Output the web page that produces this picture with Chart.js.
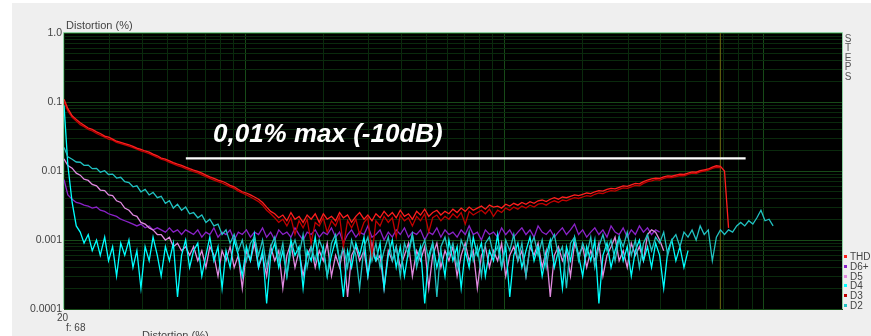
<!DOCTYPE html>
<html>
<head>
<meta charset="utf-8">
<script src="https://cdn.jsdelivr.net/npm/chart.js@4.4.0/dist/chart.umd.min.js"></script>
<style>
html, body { margin: 0; padding: 0; background: #fff; width: 871px; height: 336px; overflow: hidden; }
#panel { position: absolute; left: 12px; top: 3px; width: 859px; height: 333px; background: #efefef; }
#wrap { position: absolute; left: 0; top: 0; width: 871px; height: 336px; }
.lbl { position: absolute; font-family: "Liberation Sans", Arial, sans-serif; font-size: 11px; line-height: 11px; color: #444; white-space: nowrap; }
.steps { position: absolute; left: 843px; top: 34px; width: 10px; font-family: "Liberation Sans", Arial, sans-serif; font-size: 10px; line-height: 9.4px; color: #555; text-align: center; }
.leg { position: absolute; left: 844px; font-family: "Liberation Sans", Arial, sans-serif; font-size: 10px; line-height: 10px; color: #444; white-space: nowrap; }
.leg i { display: inline-block; width: 3px; height: 3px; margin-right: 3px; vertical-align: 2px; }
.note { position: absolute; left: 213px; top: 120px; font-family: "Liberation Sans", Arial, sans-serif; font-size: 26px; line-height: 26px; font-weight: bold; font-style: italic; color: #fff; white-space: nowrap; }
</style>
</head>
<body>
<div id="panel"></div>
<div id="wrap"><canvas id="myChart"></canvas></div>
<div class="lbl" style="left:66px;top:20px;">Distortion (%)</div>
<div class="lbl" style="left:57px;top:312px;font-size:10px;">20</div>
<div class="lbl" style="left:66px;top:322px;font-size:10px;">f: 68</div>
<div class="lbl" style="left:142px;top:330px;">Distortion (%)</div>
<div class="steps">S<br>T<br>E<br>P<br>S</div>
<div class="note">0,01% max (-10dB)</div>
<div id="legend"></div>
<script>
// sweep frequencies (Hz), 64 steps per decade, shared by all traces
const freqs = [20.0, 20.7, 21.5, 22.3, 23.1, 23.9, 24.8, 25.7, 26.7, 27.6, 28.7, 29.7, 30.8, 31.9, 33.1, 34.3,
	35.6, 36.9, 38.2, 39.6, 41.1, 42.6, 44.1, 45.8, 47.4, 49.2, 51.0, 52.8, 54.8, 56.8, 58.9, 61.0,
	63.2, 65.6, 68.0, 70.5, 73.0, 75.7, 78.5, 81.4, 84.3, 87.4, 90.6, 94.0, 97.4, 101.0, 104.7, 108.5,
	112.5, 116.6, 120.9, 125.3, 129.9, 134.6, 139.6, 144.7, 150.0, 155.5, 161.2, 167.1, 173.2, 179.5, 186.1, 192.9,
	200, 207, 215, 223, 231, 239, 248, 257, 267, 276, 287, 297, 308, 319, 331, 343,
	356, 369, 382, 396, 411, 426, 441, 458, 474, 492, 510, 528, 548, 568, 589, 610,
	632, 656, 680, 705, 730, 757, 785, 814, 843, 874, 906, 940, 974, 1010, 1047, 1085,
	1125, 1166, 1209, 1253, 1299, 1346, 1396, 1447, 1500, 1555, 1612, 1671, 1732, 1795, 1861, 1929,
	2000, 2073, 2149, 2228, 2310, 2394, 2482, 2573, 2667, 2765, 2866, 2971, 3080, 3193, 3310, 3431,
	3557, 3687, 3822, 3962, 4107, 4258, 4413, 4575, 4743, 4916, 5097, 5284, 5477, 5677, 5886, 6101,
	6325, 6556, 6797, 7046, 7304, 7571, 7849, 8137, 8434, 8743, 9063, 9395, 9739, 10096, 10466, 10849,
	11247, 11659, 12086, 12529, 12988, 13464, 13957, 14468, 14998, 15547, 16117, 16707, 17320, 17954, 18611, 19293,
	20000];

const thd = [0.11, 0.080, 0.063, 0.056, 0.050, 0.046, 0.042, 0.040, 0.037, 0.035, 0.032, 0.031, 0.029, 0.027, 0.026, 0.025,
	0.024, 0.0228, 0.0215, 0.0206, 0.0195, 0.0188, 0.0176, 0.0166, 0.0154, 0.0149, 0.0140, 0.0132, 0.0126, 0.0121, 0.0114, 0.0108,
	0.0103, 0.0099, 0.0093, 0.0087, 0.0082, 0.0078, 0.0074, 0.0071, 0.0067, 0.0062, 0.0059, 0.0054, 0.0050, 0.0048, 0.0045, 0.0042,
	0.0039, 0.0035, 0.0030, 0.0026, 0.0024, 0.0021, 0.0023, 0.0019, 0.0025, 0.0020, 0.0022, 0.0018, 0.0023, 0.0020, 0.0024, 0.0018,
	0.0024, 0.0020, 0.0022, 0.0019, 0.0025, 0.0021, 0.0023, 0.0018, 0.0022, 0.0025, 0.0020, 0.0023, 0.0019, 0.0024, 0.0021, 0.0026,
	0.0022, 0.0025, 0.0021, 0.0027, 0.0022, 0.0024, 0.0020, 0.0026, 0.0023, 0.0028, 0.0022, 0.0025, 0.0027, 0.0023, 0.0026, 0.0024,
	0.0028, 0.0025, 0.0029, 0.0026, 0.0030, 0.0027, 0.0029, 0.0031, 0.0028, 0.0032, 0.0030, 0.0031, 0.0029, 0.0033, 0.0031, 0.0034,
	0.0032, 0.0035, 0.0033, 0.0036, 0.0034, 0.0037, 0.0038, 0.0036, 0.0039, 0.0041, 0.0039, 0.0042, 0.0041, 0.0043, 0.0045, 0.0044,
	0.0046, 0.0048, 0.0047, 0.0050, 0.0052, 0.0051, 0.0054, 0.0056, 0.0055, 0.0058, 0.0061, 0.0060, 0.0063, 0.0066, 0.0065, 0.0070,
	0.0074, 0.0077, 0.0079, 0.0078, 0.0082, 0.0085, 0.0084, 0.0087, 0.0090, 0.0089, 0.0093, 0.0097, 0.0096, 0.0101, 0.0104, 0.0107,
	0.0114, 0.0119, 0.0117, 0.0100, 0.0015];

const d3 = [0.100, 0.074, 0.060, 0.053, 0.047, 0.044, 0.040, 0.038, 0.035, 0.033, 0.031, 0.029, 0.028, 0.026, 0.025, 0.024,
	0.023, 0.0218, 0.0207, 0.0196, 0.0187, 0.0178, 0.0168, 0.0158, 0.0148, 0.0142, 0.0133, 0.0127, 0.0120, 0.0115, 0.0108, 0.0103,
	0.0098, 0.0094, 0.0088, 0.0083, 0.0078, 0.0074, 0.0070, 0.0067, 0.0063, 0.0059, 0.0056, 0.0051, 0.0048, 0.0045, 0.0042, 0.0039,
	0.0036, 0.0032, 0.0027, 0.0024, 0.0021, 0.0018, 0.0020, 0.0016, 0.0021, 0.0012, 0.0019, 0.0015, 0.0020, 0.0009, 0.0018, 0.0016,
	0.0021, 0.0013, 0.0019, 0.0016, 0.0022, 0.0008, 0.0019, 0.0015, 0.0020, 0.0012, 0.0018, 0.0021, 0.0006, 0.0019, 0.0016, 0.0022,
	0.0018, 0.0021, 0.0011, 0.0023, 0.0019, 0.0021, 0.0016, 0.0022, 0.0019, 0.0024, 0.0013, 0.0021, 0.0023, 0.0019, 0.0022, 0.0020,
	0.0024, 0.0021, 0.0025, 0.0017, 0.0026, 0.0023, 0.0025, 0.0027, 0.0024, 0.0028, 0.0022, 0.0027, 0.0025, 0.0029, 0.0027, 0.0030,
	0.0028, 0.0031, 0.0029, 0.0032, 0.0030, 0.0033, 0.0034, 0.0032, 0.0035, 0.0037, 0.0035, 0.0038, 0.0037, 0.0039, 0.0041, 0.0040,
	0.0042, 0.0044, 0.0043, 0.0046, 0.0048, 0.0047, 0.0050, 0.0052, 0.0051, 0.0054, 0.0057, 0.0056, 0.0059, 0.0062, 0.0061, 0.0066,
	0.0070, 0.0072, 0.0075, 0.0074, 0.0078, 0.0081, 0.0080, 0.0083, 0.0086, 0.0085, 0.0089, 0.0093, 0.0092, 0.0097, 0.0100, 0.0103,
	0.0109, 0.0113, 0.0112];

const d6plus = [0.0075, 0.0045, 0.0039, 0.0035, 0.0034, 0.0032, 0.0031, 0.0029, 0.0030, 0.0027, 0.0026, 0.0024, 0.0023, 0.0022, 0.0020, 0.0019,
	0.0018, 0.0017, 0.0016, 0.0017, 0.0015, 0.0016, 0.0014, 0.0015, 0.0014, 0.0013, 0.0015, 0.0013, 0.0014, 0.0012, 0.0014, 0.0013,
	0.0012, 0.0014, 0.0011, 0.0013, 0.0012, 0.0015, 0.0011, 0.0013, 0.0012, 0.0014, 0.0010, 0.0013, 0.0012, 0.0014, 0.0011, 0.0013,
	0.0012, 0.0015, 0.0011, 0.0013, 0.0010, 0.0014, 0.0012, 0.0013, 0.0011, 0.0015, 0.0012, 0.0010, 0.0013, 0.0012, 0.0014, 0.0011,
	0.0013, 0.0012, 0.0015, 0.0011, 0.0013, 0.0009, 0.0012, 0.0014, 0.0011, 0.0013, 0.0012, 0.0016, 0.0011, 0.0012, 0.0014, 0.0010,
	0.0013, 0.0011, 0.0014, 0.0012, 0.0015, 0.0011, 0.0013, 0.0012, 0.0014, 0.0010, 0.0013, 0.0012, 0.0015, 0.0011, 0.0014, 0.0012,
	0.0013, 0.0011, 0.0014, 0.0012, 0.0016, 0.0012, 0.0013, 0.0010, 0.0014, 0.0012, 0.0013, 0.0011, 0.0015, 0.0012, 0.0014, 0.0011,
	0.0013, 0.0015, 0.0012, 0.0014, 0.0011, 0.0016, 0.0013, 0.0012, 0.0014, 0.0011, 0.0013, 0.0015, 0.0012, 0.0014, 0.0017, 0.0012,
	0.0014, 0.0011, 0.0013, 0.0015, 0.0012, 0.0014, 0.0011, 0.0016, 0.0013, 0.0012, 0.0015, 0.0011, 0.0014, 0.0012, 0.0016, 0.0013,
	0.0015, 0.0012, 0.0014, 0.0013];

const d5 = [0.015, 0.012, 0.011, 0.0093, 0.0087, 0.0076, 0.0073, 0.0064, 0.0061, 0.0053, 0.0052, 0.0045, 0.0044, 0.0037, 0.0035, 0.0029,
	0.0027, 0.0023, 0.0022, 0.0018, 0.0017, 0.0015, 0.0014, 0.0012, 0.0012, 0.0010, 0.0011, 0.0008, 0.0009, 0.0007, 0.0008, 0.0006,
	0.0008, 0.0005, 0.0007, 0.0004, 0.0008, 0.0006, 0.0003, 0.0007, 0.0005, 0.0008, 0.0004, 0.0006, 0.0002, 0.0007, 0.0005, 0.0009,
	0.0004, 0.0006, 0.0003, 0.0008, 0.0005, 0.0007, 0.0002, 0.0006, 0.0009, 0.0004, 0.0007, 0.0003, 0.0006, 0.0008, 0.0004, 0.0007,
	0.0005, 0.0009, 0.0003, 0.0006, 0.0004, 0.0008, 0.00015, 0.0006, 0.0008, 0.0005, 0.0007, 0.0003, 0.0009, 0.0005, 0.0006, 0.0002,
	0.0007, 0.0005, 0.0008, 0.0004, 0.0006, 0.0009, 0.0003, 0.0007, 0.0005, 0.0008, 0.0002, 0.0006, 0.0009, 0.0004, 0.0007, 0.0005,
	0.0008, 0.0003, 0.0006, 0.0009, 0.0005, 0.0007, 0.0002, 0.0006, 0.0008, 0.0004, 0.0007, 0.0005, 0.0009, 0.0003, 0.0006, 0.0008,
	0.0005, 0.0007, 0.0003, 0.0008, 0.0006, 0.0009, 0.0004, 0.0007, 0.00015, 0.0006, 0.0008, 0.0005, 0.0007, 0.0003, 0.0009, 0.0006,
	0.0008, 0.0004, 0.0007, 0.0005, 0.0009, 0.0003, 0.0006, 0.0008, 0.0011, 0.0005, 0.0007, 0.0004, 0.0009, 0.0006, 0.0008, 0.0005,
	0.0012, 0.0014, 0.0013, 0.0010, 0.0007];

const d4 = [0.090, 0.012, 0.0035, 0.0016, 0.0013, 0.0009, 0.0012, 0.0007, 0.0010, 0.0006, 0.0011, 0.0005, 0.0008, 0.0003, 0.0009, 0.0006,
	0.0010, 0.0004, 0.0007, 0.0002, 0.0008, 0.0005, 0.0011, 0.0006, 0.0003, 0.0008, 0.0005, 0.0009, 0.00015, 0.0006, 0.0010, 0.0004,
	0.0007, 0.0009, 0.0003, 0.0006, 0.0011, 0.0005, 0.0008, 0.0002, 0.0007, 0.0004, 0.0010, 0.0006, 0.0003, 0.0008, 0.0005, 0.0012,
	0.0004, 0.0007, 0.00012, 0.0006, 0.0009, 0.0004, 0.0007, 0.0003, 0.0010, 0.0006, 0.0008, 0.0002, 0.0007, 0.0005, 0.0011, 0.0004,
	0.0008, 0.0003, 0.0006, 0.0010, 0.0005, 0.00015, 0.0007, 0.0004, 0.0009, 0.0006, 0.0011, 0.0003, 0.0007, 0.0005, 0.0009, 0.0002,
	0.0006, 0.0010, 0.0004, 0.0008, 0.0003, 0.0007, 0.0012, 0.0005, 0.0008, 0.00012, 0.0006, 0.0009, 0.0004, 0.0007, 0.0003, 0.0010,
	0.0005, 0.0008, 0.0002, 0.0007, 0.0004, 0.0011, 0.0006, 0.0009, 0.0003, 0.0007, 0.0005, 0.0012, 0.0004, 0.0008, 0.00015, 0.0006,
	0.0009, 0.0004, 0.0007, 0.0011, 0.0005, 0.0008, 0.0003, 0.0006, 0.0010, 0.0004, 0.0007, 0.0002, 0.0008, 0.0005, 0.0011, 0.0006,
	0.0003, 0.0008, 0.0005, 0.0010, 0.00012, 0.0006, 0.0009, 0.0004, 0.0007, 0.0011, 0.0005, 0.0008, 0.0003, 0.0007, 0.0010, 0.0005,
	0.0008, 0.0004, 0.0009, 0.0006, 0.0002, 0.0007, 0.0010, 0.0005, 0.0008, 0.0004, 0.0007];

const d2 = [0.022, 0.016, 0.0148, 0.0135, 0.0134, 0.0121, 0.0122, 0.0108, 0.0109, 0.0096, 0.0101, 0.0089, 0.0090, 0.0079, 0.0081, 0.0070,
	0.0068, 0.0059, 0.0061, 0.0050, 0.0054, 0.0045, 0.0049, 0.0041, 0.0043, 0.0034, 0.0037, 0.0029, 0.0033, 0.0027, 0.0030, 0.0024,
	0.0025, 0.0021, 0.0023, 0.0018, 0.0020, 0.0016, 0.0017, 0.0012, 0.0014, 0.0009, 0.0012, 0.0007, 0.0010, 0.0005, 0.0009, 0.0011,
	0.0006, 0.0010, 0.0004, 0.0008, 0.0011, 0.0005, 0.0009, 0.0003, 0.0007, 0.0010, 0.0006, 0.0012, 0.0004, 0.0008, 0.0005, 0.0010,
	0.0007, 0.0003, 0.0009, 0.0012, 0.0005, 0.0008, 0.0004, 0.0010, 0.0006, 0.0002, 0.0008, 0.0011, 0.0005, 0.0009, 0.0004, 0.0007,
	0.0011, 0.0005, 0.0008, 0.0003, 0.0009, 0.0006, 0.0012, 0.0004, 0.0007, 0.0010, 0.0005, 0.0009, 0.00015, 0.0008, 0.0011, 0.0006,
	0.0009, 0.0004, 0.0010, 0.0007, 0.0013, 0.0005, 0.0008, 0.0003, 0.0009, 0.0011, 0.0006, 0.0008, 0.0004, 0.0010, 0.0007, 0.0012,
	0.0005, 0.0009, 0.0003, 0.0008, 0.0011, 0.0006, 0.0010, 0.0004, 0.0009, 0.0012, 0.0006, 0.0008, 0.0002, 0.0009, 0.0011, 0.0005,
	0.0009, 0.0006, 0.0011, 0.0004, 0.0008, 0.0012, 0.0007, 0.0010, 0.0005, 0.0011, 0.0008, 0.0013, 0.0006, 0.0010, 0.0004, 0.0009,
	0.0012, 0.0007, 0.0011, 0.0009, 0.0013, 0.0006, 0.0010, 0.0012, 0.0008, 0.0013, 0.0011, 0.0014, 0.0010, 0.0016, 0.0012, 0.0014,
	0.0005, 0.0011, 0.0014, 0.0012, 0.0014, 0.0013, 0.0016, 0.0018, 0.0016, 0.0019, 0.0017, 0.0021, 0.0027, 0.0019, 0.0020, 0.0016];

// limit line and cursor
const limitFreqs = [59, 8500];
const limitLevel = 0.0152;
const cursorFreq = 6790;

const legendNames = ["THD", "D6+", "D5", "D4", "D3", "D2"];
const legendColors = ["#ff1e1e", "#8a22c8", "#e08ae0", "#00ffff", "#c00000", "#20c2c2"];

const toPoints = (vals) => vals.map((v, i) => ({x: freqs[i], y: v}));

const yTicks = [];
for (let e = -4; e <= 0; e++)
	for (let m = 1; m <= 9; m++) {
		const v = parseFloat((m * Math.pow(10, e)).toPrecision(3));
		if (v <= 1) yTicks.push(v);
	}
const xTicks = [];
for (let e = 1; e <= 4; e++)
	for (let m = 1; m <= 9; m++) {
		const v = m * Math.pow(10, e);
		if (v >= 20 && v <= 20000) xTicks.push(v);
	}

const isDecade = (v) => Math.abs(Math.log10(v) - Math.round(Math.log10(v))) < 1e-6;
const gridColor = (ctx) => (ctx.tick && isDecade(ctx.tick.value)) ? "#174a18" : "#0a2a0d";

const plotFrame = {
	id: "plotFrame",
	beforeDraw(chart) {
		const {ctx, chartArea: a} = chart;
		ctx.save();
		ctx.fillStyle = "#000";
		ctx.fillRect(a.left, a.top, a.right - a.left, a.bottom - a.top);
		ctx.restore();
	},
	afterDraw(chart) {
		const {ctx, chartArea: a} = chart;
		ctx.save();
		ctx.strokeStyle = "#8ccfa0";
		ctx.lineWidth = 1;
		ctx.beginPath();
		ctx.moveTo(a.left - 0.5, a.bottom);
		ctx.lineTo(a.left - 0.5, a.top - 0.5);
		ctx.lineTo(a.right + 0.5, a.top - 0.5);
		ctx.lineTo(a.right + 0.5, a.bottom);
		ctx.stroke();
		ctx.restore();
	}
};

const line = (label, vals, color, order) => ({
	label: label,
	data: toPoints(vals),
	borderColor: color,
	borderWidth: 1.3,
	pointRadius: 0,
	tension: 0,
	order: order
});

new Chart("myChart", {
	type: "line",
	data: {
		datasets: [
			{
				label: "limit",
				data: limitFreqs.map((f) => ({x: f, y: limitLevel})),
				borderColor: "#ffffff",
				borderWidth: 2.2,
				pointRadius: 0,
				order: 0
			},
			line("THD", thd, legendColors[0], 1),
			line("D3", d3, legendColors[4], 2),
			line("D2", d2, legendColors[5], 3),
			line("D4", d4, legendColors[3], 4),
			line("D5", d5, legendColors[2], 5),
			line("D6+", d6plus, legendColors[1], 6),
			{
				label: "cursor",
				data: [{x: cursorFreq, y: 0.0001}, {x: cursorFreq, y: 1}],
				borderColor: "#6e6a12",
				borderWidth: 1,
				pointRadius: 0,
				order: 7
			}
		]
	},
	options: {
		responsive: true,
		maintainAspectRatio: false,
		animation: false,
		layout: { padding: { left: 0, top: 33, right: 29, bottom: 27 } },
		plugins: {
			legend: { display: false },
			tooltip: { enabled: false }
		},
		scales: {
			x: {
				type: "logarithmic",
				min: 20,
				max: 20000,
				afterBuildTicks: (scale) => { scale.ticks = xTicks.map((v) => ({value: v})); },
				afterFit: (scale) => { scale.height = 0; },
				ticks: { display: false },
				grid: { color: gridColor, lineWidth: 1, drawTicks: false },
				border: { color: "#174a18" }
			},
			y: {
				type: "logarithmic",
				min: 0.0001,
				max: 1,
				afterBuildTicks: (scale) => { scale.ticks = yTicks.map((v) => ({value: v})); },
				afterFit: (scale) => { scale.width = 64; },
				ticks: {
					autoSkip: false,
					padding: 2,
					color: "#444",
					font: { family: "Liberation Sans", size: 10.5 },
					callback: (v) => {
						if (!isDecade(v)) return "";
						if (v >= 1) return "1.0";
						return v.toFixed(Math.round(-Math.log10(v)));
					}
				},
				grid: { color: gridColor, lineWidth: 1, drawTicks: false },
				border: { display: false }
			}
		}
	},
	plugins: [plotFrame]
});

// side legend
const legendDiv = document.getElementById("legend");
const legendTops = [252, 262, 272, 281, 291, 301];
for (let i = 0; i < legendNames.length; i++) {
	const row = document.createElement("div");
	row.className = "leg";
	row.style.top = legendTops[i] + "px";
	row.innerHTML = `<i style="background:${legendColors[i]}"></i>${legendNames[i]}`;
	legendDiv.appendChild(row);
}
</script>
</body>
</html>
